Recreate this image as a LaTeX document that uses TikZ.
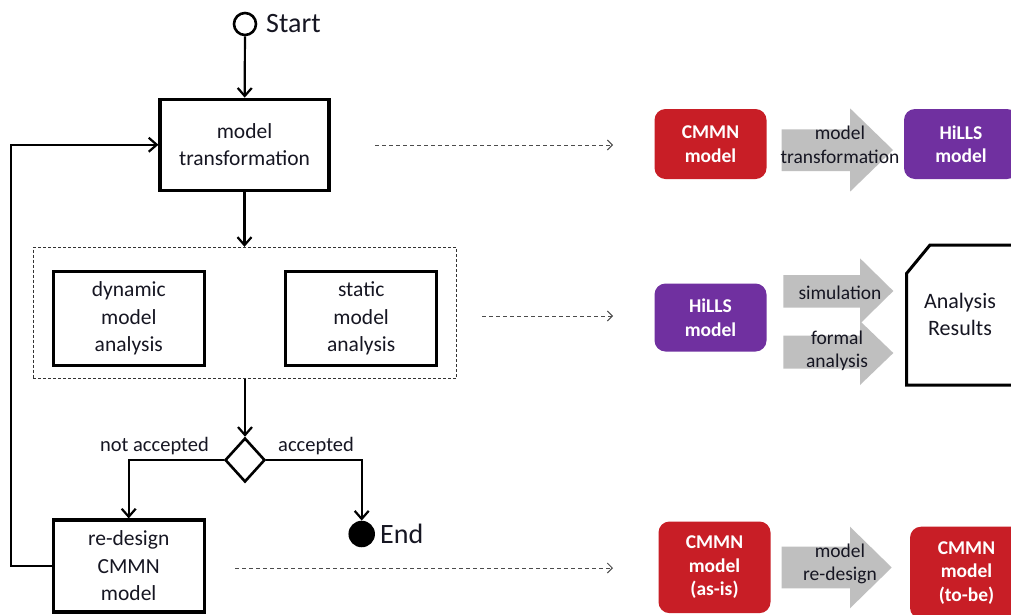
\documentclass[tikz,border=0pt]{standalone}
\usepackage{fontspec}
\setmainfont{Carlito}
\usetikzlibrary{arrows.meta,shapes.geometric,calc}
\definecolor{cred}{RGB}{200,30,38}
\definecolor{cpurple}{RGB}{112,48,160}
\definecolor{cgray}{RGB}{191,191,191}
\definecolor{ink}{RGB}{22,22,34}
\begin{document}
\begin{tikzpicture}[x=1pt,y=-1pt,
  boxtxt/.style={font=\fontsize{21.5}{27.5}\selectfont, align=center, text=ink},
  stepbox/.style={draw, line width=3.2pt, boxtxt, inner sep=0pt},
  flow/.style={line width=2.2pt, -{Straight Barb[length=8pt,width=14pt,line width=2.2pt]}},
  dashflow/.style={line width=1pt, draw=black!70, dash pattern=on 4pt off 3pt, -{Straight Barb[length=5pt,width=10pt,line width=1pt]}},
  tile/.style={rounded corners=11pt, text=white, font=\bfseries\fontsize{19.5}{23.5}\selectfont, align=center, inner sep=0pt},
  lbl/.style={font=\fontsize{19.5}{23.5}\selectfont, align=center, text=ink},
  big/.style={font=\fontsize{28}{34}\selectfont, text=ink, inner sep=0pt},
  garrow/.style={fill=cgray}
]
\useasboundingbox (0,0) rectangle (1011,614);
\fill[white] (0,0) rectangle (1011,614);

% left flow
\node[circle, draw, line width=2.6pt, minimum size=22pt, inner sep=0pt] (start) at (245,24) {};
\node[big, anchor=west] (starttxt) at (266,24) {Start};
\node[stepbox, minimum width=169pt, minimum height=91pt] (mt) at (244.5,144.75) {model\\transformation};
\node[draw=black!80, line width=1pt, dash pattern=on 3pt off 2pt, minimum width=423.4pt, minimum height=131pt, inner sep=0pt] (cont) at (245,312.8) {};
\node[stepbox, minimum width=151pt, minimum height=94pt] (dyn) at (128.8,318.7) {dynamic\\model\\analysis};
\node[stepbox, minimum width=151pt, minimum height=94pt] (sta) at (361.2,318.7) {static\\model\\analysis};
\node[diamond, draw, line width=2.6pt, minimum width=40pt, minimum height=44pt, inner sep=0pt] (dec) at (245,460) {};
\node[stepbox, minimum width=151pt, minimum height=92pt] (rd) at (128.7,566) {re-design\\CMMN\\model};
\node[circle, fill=black, minimum size=26.5pt, inner sep=0pt] (end) at (361.7,534) {};
\node[big, anchor=west] (endtxt) at (380,534) {End};
\node[boxtxt, font=\fontsize{20.5}{25}\selectfont, anchor=base east, inner sep=0pt] (notacc) at (209,451) {not accepted};
\node[boxtxt, font=\fontsize{20.5}{25}\selectfont, anchor=base west, inner sep=0pt] (acc) at (278,451) {accepted};

\draw[flow] (start) -- (mt);
\draw[flow] (mt.south) -- (mt.south |- cont.north);
\draw[flow] (cont.south) -- (dec.north);
\draw[flow] (dec.west) -| (rd.north);
\draw[flow] (dec.east) -| (end.north);
\draw[flow] (rd.west) -- ++(-40.5,0) |- (mt.west);

% dashed links
\coordinate (d1s) at (375,145); \coordinate (d1e) at (613,145);
\coordinate (d2s) at (482,316); \coordinate (d2e) at (613,316);
\coordinate (d3s) at (235,568); \coordinate (d3e) at (613,568);
\draw[dashflow] (d1s) -- (d1e);
\draw[dashflow] (d2s) -- (d2e);
\draw[dashflow] (d3s) -- (d3e);

% row 1
\node[tile, fill=cred, minimum width=112pt, minimum height=70pt] (cm1) at (710.5,144) {CMMN\\model};
\fill[garrow] (781.7,129.3) -- (850,129.3) -- (850,108.3) -- (893,150) -- (850,191.7) -- (850,171) -- (781.7,171) -- cycle;
\node[lbl] (t1) at (840,145) {model\\transformation};
\node[tile, fill=cpurple, minimum width=114pt, minimum height=70pt] (hl1) at (961,144) {HiLLS\\model};

% row 2
\node[tile, fill=cpurple, minimum width=112pt, minimum height=68pt] (hl2) at (710.5,317.5) {HiLLS\\model};
\fill[garrow] (783.3,275) -- (860,275) -- (860,258.3) -- (893.3,291) -- (860,323.7) -- (860,307.5) -- (783.3,307.5) -- cycle;
\fill[garrow] (783.3,335.5) -- (860,335.5) -- (860,321) -- (893.3,353) -- (860,385) -- (860,368.5) -- (783.3,368.5) -- cycle;
\node[lbl] (t2) at (840,293) {simulation};
\node[lbl] (t3) at (837,351) {formal\\analysis};
\draw[line width=3pt, line join=miter] (906.7,385) -- (906.7,273.3) -- (930,245) -- (1030,245) -- (1030,385) -- cycle;
\node[boxtxt, font=\fontsize{22}{27}\selectfont] (res) at (960,314) {Analysis\\Results};

% row 3
\node[tile, fill=cred, minimum width=112pt, minimum height=91.6pt] (cm3) at (714.5,567.3) {CMMN\\model\\(as-is)};
\fill[garrow] (781.7,546.7) -- (850,546.7) -- (850,526.7) -- (891.7,567.5) -- (850,608.3) -- (850,588.3) -- (781.7,588.3) -- cycle;
\node[lbl] (t4) at (840,564) {model\\re-design};
\node[tile, fill=cred, minimum width=113pt, minimum height=92pt] (cm4) at (966.5,572.7) {CMMN\\model\\(to-be)};
\end{tikzpicture}
\end{document}
